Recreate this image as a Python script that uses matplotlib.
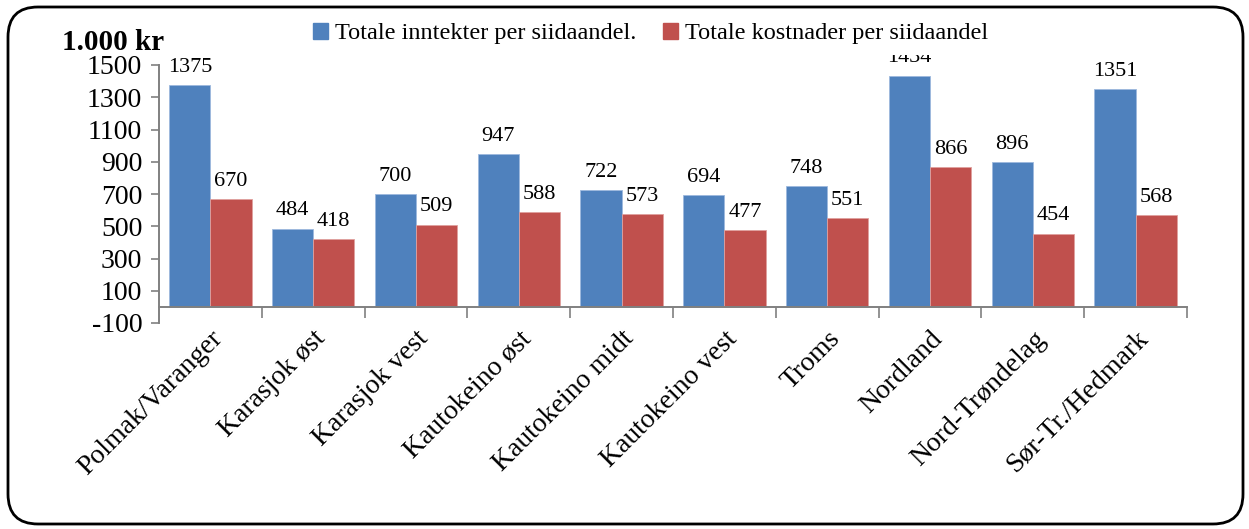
import numpy as np
import matplotlib
matplotlib.use("Agg")
import matplotlib.pyplot as plt
from matplotlib.patches import FancyBboxPatch, Patch

plt.rcParams['font.family'] = ['Liberation Serif', 'DejaVu Serif']
plt.rcParams['axes.unicode_minus'] = False

categories = ['Polmak/Varanger', 'Karasjok øst', 'Karasjok vest', 'Kautokeino øst',
              'Kautokeino midt', 'Kautokeino vest', 'Troms', 'Nordland',
              'Nord-Trøndelag', 'Sør-Tr./Hedmark']
inntekter = [1375, 484, 700, 947, 722, 694, 748, 1434, 896, 1351]
kostnader = [670, 418, 509, 588, 573, 477, 551, 866, 454, 568]
series_names = ['Totale inntekter per siidaandel.', 'Totale kostnader per siidaandel']
blue = '#4F81BD'
red = '#C0504D'

W, H = 1249, 529
fig = plt.figure(figsize=(W / 100, H / 100), dpi=100)

# rounded frame round the whole chart
bg = fig.add_axes([0, 0, 1, 1], zorder=0)
bg.set_xlim(0, W)
bg.set_ylim(0, H)
bg.axis('off')
bg.add_patch(FancyBboxPatch((8, 5), W - 14, H - 12,
                            boxstyle='round,pad=0,rounding_size=30',
                            fc='white', ec='black', lw=2))

ax = fig.add_axes([159 / W, 1 - 323 / H, (1187 - 159) / W, (323 - 65) / H], zorder=1)
ax.patch.set_alpha(0)

x = np.arange(len(categories))
w = 0.4
b1 = ax.bar(x - w / 2, inntekter, w, color=blue, edgecolor='#9DB9DE', lw=0.6)
b2 = ax.bar(x + w / 2, kostnader, w, color=red, edgecolor='#E0A09E', lw=0.6)

for bars, vals in ((b1, inntekter), (b2, kostnader)):
    for rect, v in zip(bars, vals):
        ax.annotate(str(v), (rect.get_x() + rect.get_width() / 2, v),
                    xytext=(0, 6), textcoords='offset points',
                    ha='center', va='bottom', fontsize=16)

ax.set_xlim(-0.5, len(categories) - 0.5)
ax.set_ylim(-100, 1500)
ax.set_yticks(np.arange(-100, 1501, 200))
ax.tick_params(axis='y', direction='out', length=6, width=1.2, color='#808080',
               labelsize=20, pad=6)

ax.spines['top'].set_visible(False)
ax.spines['right'].set_visible(False)
ax.spines['left'].set_color('#808080')
ax.spines['left'].set_linewidth(1.4)
ax.spines['bottom'].set_position(('data', 0))
ax.spines['bottom'].set_color('#808080')
ax.spines['bottom'].set_linewidth(1.4)

ax.set_xticks(x)
ax.set_xticklabels(categories, rotation=45, ha='right', rotation_mode='anchor',
                   fontsize=20)
ax.tick_params(axis='x', which='major', length=0, pad=14)
ax.set_xticks(np.arange(0.5, len(categories), 1), minor=True)
ax.tick_params(axis='x', which='minor', direction='out', length=8, width=1.2,
               color='#808080')

fig.text(62 / W, 1 - 42 / H, '1.000 kr', fontsize=21, fontweight='bold',
         ha='left', va='center')

handles = [Patch(color=blue), Patch(color=red)]
leg = fig.legend(handles, series_names, loc='center', bbox_to_anchor=(0.521, 0.936),
                 ncol=2, fontsize=17.5, frameon=True, framealpha=1,
                 handlelength=0.6, handleheight=0.6, handletextpad=0.3,
                 columnspacing=1.1, borderpad=0.45)
leg.get_frame().set_facecolor('white')
leg.get_frame().set_edgecolor('none')
leg.set_zorder(5)

fig.savefig('out.png', dpi=100)
